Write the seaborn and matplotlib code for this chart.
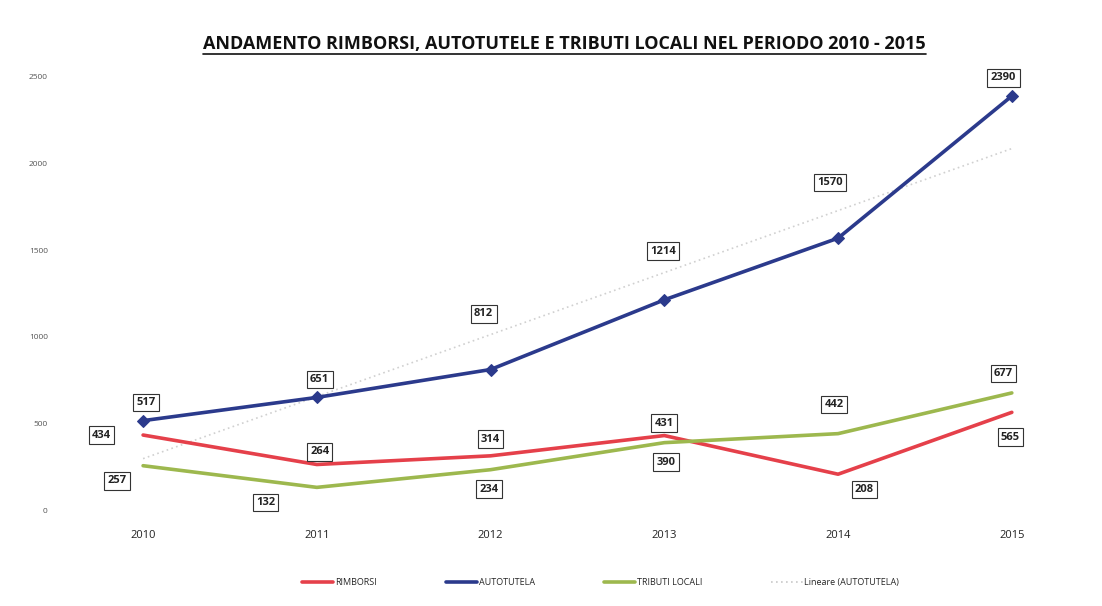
import numpy as np
import pandas as pd
import matplotlib
matplotlib.use('Agg')
import matplotlib.pyplot as plt
from matplotlib.lines import Line2D
import seaborn as sns

# dati
anni = ['2010', '2011', '2012', '2013', '2014', '2015']
rimborsi = [434, 264, 314, 431, 208, 565]
autotutela = [517, 651, 812, 1214, 1570, 2390]
tributi_locali = [257, 132, 234, 390, 442, 677]
serie_nomi = ['RIMBORSI', 'AUTOTUTELA', 'TRIBUTI LOCALI']
y_ticks = [0, 500, 1000, 1500, 2000, 2500]

# spostamento etichette (punti tipografici)
off_rimborsi = [(-30, 0), (2, 9), (0, 12), (0, 9), (19, -11), (-1, -18)]
off_autotutela = [(2, 13), (2, 13), (-5, 40), (-1, 35), (-6, 40), (-6, 13)]
off_tributi = [(-19, -11), (-37, -11), (-1, -14), (1, -14), (-3, 21), (-6, 14)]

colori = ['#E5404A', '#2B3A8C', '#9DB84E']

sns.set_theme(style='white')
plt.rcParams['font.family'] = ['Open Sans', 'DejaVu Sans']

df = pd.DataFrame({'anno': anni * 3,
                   'valore': rimborsi + autotutela + tributi_locali,
                   'serie': [s for s in serie_nomi for _ in anni]})
df['x'] = list(range(len(anni))) * 3

fig = plt.figure(figsize=(11.02, 6.06), dpi=100)
ax = fig.add_axes([0.051, 0.158, 0.946, 0.715])

# linea di tendenza lineare su autotutela
xs = np.arange(len(anni))
coef = np.polyfit(xs, autotutela, 1)
trend = np.polyval(coef, xs)
ax.plot(xs, trend, ls=(0, (1, 2)), color='#D0D0D0', lw=1.2, zorder=1)

for nome, col in zip(serie_nomi, colori):
    sub = df[df['serie'] == nome]
    sns.lineplot(data=sub, x='x', y='valore', color=col, lw=2.6, ax=ax,
                 marker='D' if nome == 'AUTOTUTELA' else None,
                 markersize=6, markeredgecolor=col, zorder=3, legend=False)

# etichette valori
for vals, offs in [(rimborsi, off_rimborsi), (autotutela, off_autotutela),
                   (tributi_locali, off_tributi)]:
    for i, (v, o) in enumerate(zip(vals, offs)):
        ax.annotate(str(v), (i, v), xytext=o, textcoords='offset points',
                    ha='center', va='center', fontsize=8, fontweight='bold',
                    color='#222222',
                    bbox=dict(boxstyle='square,pad=0.3', fc='white', ec='#333333', lw=0.8))

ax.set_xlim(-0.5, 5.5)
ax.set_ylim(0, 2500)
ax.set_xticks(xs)
ax.set_xticklabels(anni, fontsize=8, color='#222222')
ax.set_yticks(y_ticks)
ax.set_yticklabels([str(t) for t in y_ticks], fontsize=6, color='#555555')
ax.tick_params(axis='y', pad=0)
ax.tick_params(axis='x', pad=8)
ax.set_xlabel('')
ax.set_ylabel('')
for s in ax.spines.values():
    s.set_visible(False)

# titolo sottolineato
titolo = fig.text(0.512, 0.928, 'ANDAMENTO RIMBORSI, AUTOTUTELE E TRIBUTI LOCALI NEL PERIODO 2010 - 2015',
                  ha='center', va='center', fontsize=13, fontweight='bold', color='#111111')
fig.canvas.draw()
bb = titolo.get_window_extent().transformed(fig.transFigure.inverted())
fig.add_artist(Line2D([bb.x0, bb.x1], [bb.y0 - 0.002, bb.y0 - 0.002], color='#111111', lw=1.2,
                      transform=fig.transFigure))

handles = [Line2D([], [], color=c, lw=2.6) for c in colori]
handles.append(Line2D([], [], color='#C8C8C8', lw=1.2, ls=(0, (1, 2))))
fig.legend(handles, serie_nomi + ['Lineare (AUTOTUTELA)'], loc='center',
           bbox_to_anchor=(0.545, 0.038), ncol=4, frameon=False, fontsize=6.5,
           handlelength=3.5, handletextpad=0.2, columnspacing=7.6)

fig.savefig('out.png', dpi=100)
